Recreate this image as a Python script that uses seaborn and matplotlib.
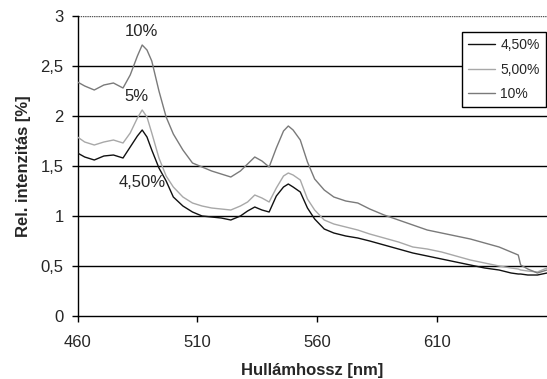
import matplotlib
matplotlib.use("Agg")
import matplotlib.pyplot as plt
import seaborn as sns
import pandas as pd

wavelength = [460, 463, 467, 471, 475, 479, 482, 485, 487, 489, 491, 494, 497, 500,
              504, 508, 512, 516, 520, 524, 528, 531, 534, 537, 540, 543, 546, 548,
              550, 553, 556, 559, 563, 567, 572, 577, 582, 588, 594, 600, 606, 612,
              618, 624, 630, 636, 641, 644, 645, 648, 652, 656]

s_450 = [1.63, 1.59, 1.56, 1.60, 1.61, 1.58, 1.69, 1.80, 1.86, 1.79, 1.66, 1.48, 1.35, 1.19,
         1.10, 1.04, 1.00, 0.99, 0.98, 0.96, 1.00, 1.05, 1.09, 1.06, 1.04, 1.20, 1.29, 1.32,
         1.29, 1.24, 1.08, 0.97, 0.87, 0.83, 0.80, 0.78, 0.75, 0.71, 0.67, 0.63, 0.60, 0.57,
         0.54, 0.51, 0.48, 0.46, 0.43, 0.42, 0.42, 0.41, 0.41, 0.43]

s_500 = [1.79, 1.74, 1.71, 1.74, 1.76, 1.73, 1.83, 1.98, 2.06, 1.99, 1.83, 1.58, 1.40, 1.29,
         1.19, 1.13, 1.10, 1.08, 1.07, 1.06, 1.10, 1.14, 1.21, 1.18, 1.14, 1.28, 1.40, 1.43,
         1.41, 1.36, 1.17, 1.06, 0.96, 0.92, 0.89, 0.86, 0.82, 0.78, 0.74, 0.69, 0.67, 0.64,
         0.60, 0.56, 0.53, 0.50, 0.48, 0.47, 0.46, 0.45, 0.44, 0.48]

s_10 = [2.34, 2.30, 2.26, 2.31, 2.33, 2.28, 2.41, 2.60, 2.71, 2.66, 2.55, 2.25, 1.99, 1.82,
        1.66, 1.53, 1.49, 1.45, 1.42, 1.39, 1.45, 1.52, 1.59, 1.55, 1.49, 1.68, 1.85, 1.90,
        1.86, 1.76, 1.54, 1.37, 1.26, 1.19, 1.15, 1.13, 1.07, 1.01, 0.96, 0.91, 0.86, 0.83,
        0.80, 0.77, 0.73, 0.69, 0.64, 0.61, 0.51, 0.47, 0.43, 0.46]

series_names = ["4,50%", "5,00%", "10%"]
x_ticks = [460, 510, 560, 610]
y_ticks = [0, 0.5, 1, 1.5, 2, 2.5, 3]
y_tick_labels = ["0", "0,5", "1", "1,5", "2", "2,5", "3"]

df = pd.concat([
    pd.DataFrame({"wl": wavelength, "val": s, "series": name})
    for s, name in zip([s_450, s_500, s_10], series_names)
])

sns.set_theme(style="white")
plt.rcParams["font.family"] = ["Liberation Sans", "DejaVu Sans"]

fig = plt.figure(figsize=(5.47, 3.79), dpi=100)
ax = fig.add_axes([0.1417, 0.1662, 0.8583, 0.7916])

for y in y_ticks[1:-1]:
    ax.axhline(y, color="black", lw=1.0, zorder=1)
ax.axhline(y_ticks[-1], color="#555555", lw=1.0, ls=(0, (1, 0.6)), zorder=1)

palette = {"4,50%": "#111111", "5,00%": "#a8a8a8", "10%": "#7a7a7a"}
sns.lineplot(data=df, x="wl", y="val", hue="series", palette=palette,
             hue_order=series_names, ax=ax, lw=1.0, zorder=3, legend=True)

ax.set_xlim(460, 656)
ax.set_ylim(0, 3)
ax.set_xticks(x_ticks)
ax.set_xticklabels([str(t) for t in x_ticks], fontsize=12)
ax.set_yticks(y_ticks)
ax.set_yticklabels(y_tick_labels, fontsize=12)
ax.tick_params(axis="x", direction="out", length=4, width=1, color="black",
               bottom=True, pad=10)
ax.tick_params(axis="y", direction="out", length=4, width=1, color="black",
               left=True, pad=6)
for side in ["top", "right"]:
    ax.spines[side].set_visible(False)
for side in ["left", "bottom"]:
    ax.spines[side].set_color("black")
    ax.spines[side].set_linewidth(1.0)

ax.set_xlabel("Hullámhossz [nm]", fontsize=12, fontweight="bold", labelpad=9)
ax.set_ylabel("Rel. intenzitás [%]", fontsize=12, fontweight="bold", labelpad=7)

ax.text(486.7, 2.84, "10%", ha="center", va="center", fontsize=12)
ax.text(484.4, 2.19, "5%", ha="center", va="center", fontsize=12)
ax.text(487.0, 1.34, "4,50%", ha="center", va="center", fontsize=12)

leg = ax.legend(loc="upper right", bbox_to_anchor=(0.998, 0.947), fontsize=10,
                frameon=True, fancybox=False, edgecolor="black", framealpha=1,
                handlelength=1.9, handletextpad=0.4, borderpad=0.45,
                labelspacing=0.75, borderaxespad=0, title=None)
leg.get_frame().set_linewidth(1.0)
leg.set_zorder(5)

fig.savefig("out.png", dpi=100)
